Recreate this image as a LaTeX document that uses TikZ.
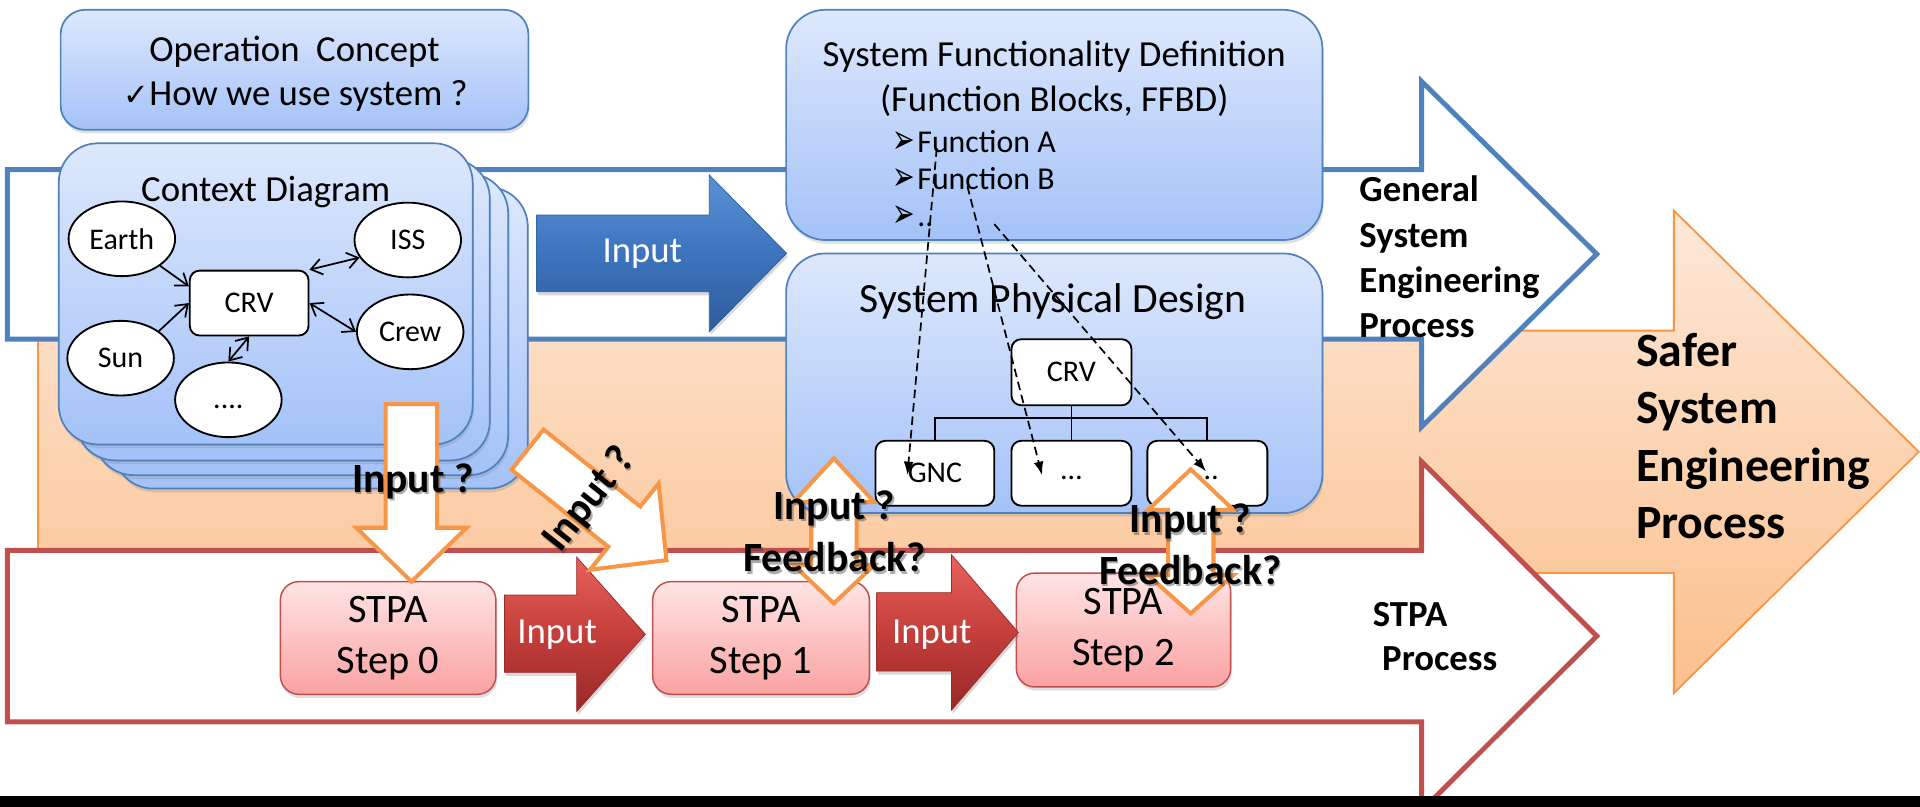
\documentclass[tikz,border=0pt]{standalone}
\usepackage{fontspec}
\setmainfont{Carlito}
\newfontfamily\dejavu{DejaVu Sans}
\usetikzlibrary{shapes.geometric,shadows,calc,arrows.meta}

\definecolor{panelTop}{HTML}{DDE8FC}
\definecolor{panelBot}{HTML}{A4C2F8}
\definecolor{panelLine}{HTML}{4F81BD}
\definecolor{gseBlue}{HTML}{4F81BD}
\definecolor{stpaRed}{HTML}{C0504D}
\definecolor{saferLine}{HTML}{F79646}
\definecolor{saferTop}{HTML}{FDE8D8}
\definecolor{saferBot}{HTML}{FBBF8C}
\definecolor{pinkTop}{HTML}{FFE4E4}
\definecolor{pinkBot}{HTML}{FAA2A2}
\definecolor{inBlueTop}{HTML}{5A91D6}
\definecolor{inBlueMid}{HTML}{3D74BD}
\definecolor{inBlueBot}{HTML}{2D5C9C}
\definecolor{inRedTop}{HTML}{E8615D}
\definecolor{inRedMid}{HTML}{C43E3A}
\definecolor{inRedBot}{HTML}{98292A}

\newcommand\fbullet{\makebox[20pt][l]{\raisebox{-1pt}{\scalebox{1.05}[1.6]{\dejavu\fontsize{21}{24}\selectfont ➢}}}}
% bold label with a soft offset shadow: name, x, y, rotation, text
\newcommand\asklabel[5]{%
  \node[asklbl, text=black!80, opacity=0.4, rotate=#4] (#1s) at ($(#2,#3)+(1.5,2)$) {#5};
  \node[asklbl, rotate=#4] (#1) at (#2,#3) {#5};}

\tikzset{
  panel/.style={rectangle, draw=panelLine, line width=1.4pt, top color=panelTop, bottom color=panelBot,
    inner sep=0pt, outer sep=0pt, drop shadow={opacity=0.25, shadow xshift=1pt, shadow yshift=-3pt}},
  ctxitem/.style={ellipse, draw=black, line width=1.5pt, fill=white, minimum width=87pt, minimum height=61pt,
    inner sep=0pt, font=\fontsize{24.5}{28}\selectfont},
  itembox/.style={rectangle, rounded corners=8pt, draw=black, line width=1.5pt, fill=white, inner sep=0pt,
    minimum width=97pt, minimum height=53pt, font=\fontsize{24.5}{28}\selectfont},
  txt/.style={inner sep=0pt, font=\fontsize{30}{36}\selectfont},
  bul/.style={inner sep=0pt, anchor=west, font=\fontsize{26}{30}\selectfont},
  proc/.style={inner sep=0pt, anchor=west, align=left, font=\bfseries\fontsize{30}{37}\selectfont},
  ctxlink/.style={line width=1.4pt, -{Straight Barb[length=9pt,width=13pt]}},
  ctxboth/.style={line width=1.4pt, {Straight Barb[length=9pt,width=13pt]}-{Straight Barb[length=9pt,width=13pt]}},
  tracelink/.style={line width=1.4pt, dash pattern=on 7pt off 4pt, -{Latex[length=11pt,width=8pt]}},
  stpabox/.style={rectangle, rounded corners=15pt, draw=stpaRed, line width=1.2pt, top color=pinkTop,
    bottom color=pinkBot, minimum width=176pt, minimum height=92pt, inner sep=0pt, align=center,
    font=\fontsize{33}{42}\selectfont, drop shadow={opacity=0.25, shadow xshift=1pt, shadow yshift=-3pt}},
  blueflow/.style={draw=inBlueBot, line width=0.6pt, top color=inBlueTop, bottom color=inBlueBot,
    middle color=inBlueMid, drop shadow={opacity=0.3, shadow xshift=1pt, shadow yshift=-3pt}},
  redflow/.style={draw=inRedBot, line width=0.6pt, top color=inRedTop, bottom color=inRedBot,
    middle color=inRedMid, drop shadow={opacity=0.3, shadow xshift=1pt, shadow yshift=-3pt}},
  askarrow/.style={draw=saferLine, line width=3.3pt, fill=white, line join=miter},
  asklbl/.style={inner sep=0pt, font=\bfseries\fontsize{34}{34}\selectfont},
  procline/.style={line width=4pt, fill=white, line join=miter}
}

\begin{document}
\begin{tikzpicture}[x=1pt,y=-1pt]
\useasboundingbox (0,0) rectangle (1568,659);
\fill[white] (0,0) rectangle (1568,659);

% overall process arrow
\path[draw=saferLine, line width=1.5pt, top color=saferTop, bottom color=saferBot, line join=miter]
  (31,270) -- (1367,270) -- (1367,172) -- (1567,369) -- (1367,566) -- (1367,468) -- (31,468) -- cycle;

% general system engineering process arrow
\draw[procline, draw=gseBlue]
  (6,138.5) -- (1161,138.5) -- (1161,66.5) -- (1304,207.5) -- (1161,348.5) -- (1161,277) -- (6,277) -- cycle;

% STPA process arrow
\draw[procline, draw=stpaRed]
  (6,449.5) -- (1161,449.5) -- (1161,377) -- (1304,519.5) -- (1161,662) -- (1161,589.5) -- (6,589.5) -- cycle;

% operation concept
\node[panel, rounded corners=20pt, minimum width=382pt, minimum height=98pt] (opc) at (240.5,57) {};
\node[txt] (opct) at (240.5,42) {Operation~~Concept};
\node[txt] (opcq) at (241.5,78) {{\dejavu\fontsize{25}{30}\selectfont ✓}How we use system ?};

% context diagram stack
\node[panel, rounded corners=32pt, minimum width=338pt, minimum height=246pt] (ctxd) at (262,276) {};
\node[panel, rounded corners=32pt, minimum width=338pt, minimum height=246pt] (ctxc) at (246,265) {};
\node[panel, rounded corners=32pt, minimum width=338pt, minimum height=246pt] (ctxb) at (231,253) {};
\node[panel, rounded corners=32pt, minimum width=338pt, minimum height=246pt] (ctx) at (217,240) {};
\node[txt] (ctxt) at (217,157) {Context Diagram};

\node[ctxitem] (earth) at (99.5,195) {Earth};
\node[ctxitem] (iss) at (333,196) {ISS};
\node[ctxitem] (crew) at (335,271) {Crew};
\node[ctxitem] (sun) at (98.5,292.5) {Sun};
\node[ctxitem, text height=14pt, text depth=0pt] (etc) at (186.5,326.5) {....};
\node[itembox] (crv) at (203.5,247.5) {CRV};

\draw[ctxlink] (earth.south east) -- ($(crv.north west)!0.25!(crv.south west)$);
\draw[ctxlink] (sun.north east) -- (crv.west);
\draw[ctxboth] (crv.north east) -- (iss.200);
\draw[ctxboth] (crv.east) -- (crew.west);
\draw[ctxboth] (crv.south) -- (etc.north);

% input from the context diagram to the design
\path[blueflow] (438.3,175.6) -- (579.3,175.6) -- (579.3,143) -- (642.4,206.9) -- (579.3,270.9)
  -- (579.3,238.2) -- (438.3,238.2) -- cycle;
\node[txt, text=white] (inA) at (524.5,207) {Input};

% system functionality definition
\node[panel, rounded corners=32pt, minimum width=438pt, minimum height=188pt] (sfd) at (861,102) {};
\node[txt] (sfdt) at (861,46) {System Functionality Definition};
\node[txt] (sfds) at (861,82) {(Function Blocks, FFBD)};
\node[bul] (fa) at (729,116) {\fbullet Function A};
\node[bul] (fb) at (729,146) {\fbullet Function B};
\node[bul] (fc) at (729,177) {\fbullet ..};

% system physical design
\node[panel, rounded corners=32pt, minimum width=438pt, minimum height=212pt] (spd) at (861,313) {};
\node[txt, font=\fontsize{34}{40}\selectfont] (spdt) at (860,246.5) {System Physical Design};
\node[itembox, minimum width=98pt, minimum height=54pt] (top) at (875,304) {CRV};
\node[itembox] (gnc) at (763.5,386.5) {GNC};
\node[itembox, minimum width=98pt, text height=10pt, text depth=0pt] (sub2) at (875,386.5) {…};
\node[itembox, minimum width=98pt, text height=10pt, text depth=0pt] (sub3) at (986,386.5) {…};
\coordinate (tj) at (875,341.6);
\draw[line width=1.5pt] (top.south) -- (sub2.north);
\draw[line width=1.5pt] (gnc.north) |- (tj) -| (sub3.north);

\draw[tracelink] ($(fa.west)+(36,5)$) -- ($(gnc.center)+(-22.5,1.5)$);
\draw[tracelink] ($(fb.west)+(61,6)$) -- ($(sub2.center)+(-24,1.5)$);
\draw[tracelink] ($(fc.west)+(83,6)$) -- ($(sub3.center)+(-1,-1.5)$);

% process names
\node[proc] (gsel) at (1110,210) {General\\System\\Engineering\\Process};
\node[proc] (stpal1) at (1121,501.5) {STPA};
\node[proc] (stpal2) at (1128.6,538) {Process};
\node[proc, font=\bfseries\fontsize{39}{47}\selectfont] (safel) at (1336,356) {Safer\\System\\Engineering\\Process};

% STPA steps
\node[stpabox] (s0) at (317,521) {STPA\\Step 0};
\node[stpabox, minimum width=177pt] (s1) at (621.5,521) {STPA\\Step 1};
\node[stpabox, minimum width=175pt, minimum height=93pt] (s2) at (917.5,514.5) {STPA\\Step 2};

\path[redflow] (412,486) -- (471,486) -- (471,455) -- (527,518) -- (471,581) -- (471,549) -- (412,549) -- cycle;
\node[txt, text=white] (inB) at (455,518.5) {Input};
\path[redflow] (716,484) -- (777,484) -- (777,453) -- (831.6,516.5) -- (777,580) -- (777,548) -- (716,548) -- cycle;
\node[txt, text=white] (inC) at (761,518) {Input};

% open questions between the processes
\draw[askarrow] (315,330) -- (357,330) -- (357,431) -- (381,431) -- (336,475) -- (291,431) -- (315,431) -- cycle;
\begin{scope}[shift={(430.8,367.2)}, rotate=51.5]
  \draw[askarrow] (-21,0) -- (21,0) -- (21,101) -- (45,101) -- (0,145) -- (-45,101) -- (-21,101) -- cycle;
\end{scope}
\draw[askarrow] (681,374.3) -- (714,410) -- (699.5,410) -- (699.5,461.4) -- (714,461.4) -- (681,492.7)
  -- (648,461.4) -- (662.5,461.4) -- (662.5,410) -- (648,410) -- cycle;
\draw[askarrow] (972.4,383.3) -- (1007.4,416.5) -- (991,416.5) -- (991,469.6) -- (1007.4,469.6) -- (972.4,501)
  -- (937.4,469.6) -- (954,469.6) -- (954,416.5) -- (937.4,416.5) -- cycle;

\asklabel{q0}{337}{393}{0}{Input ?}
\asklabel{q1}{481.5}{408}{51.5}{Input ?}
\asklabel{q2}{681}{415}{0}{Input ?}
\asklabel{q3}{681.5}{455}{0}{Feedback?}
\asklabel{q4}{972}{426}{0}{Input ?}
\asklabel{q5}{972}{465.5}{0}{Feedback?}

% bottom band
\fill[black] (0,650) rectangle (1568,659);
\end{tikzpicture}
\end{document}
